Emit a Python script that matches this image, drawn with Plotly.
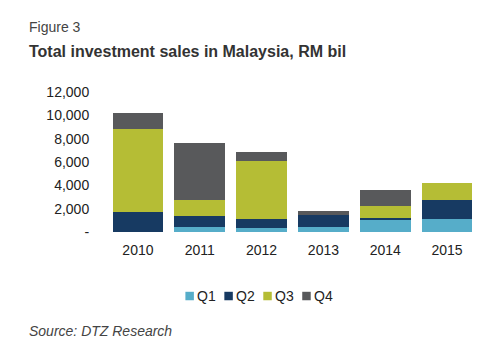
import plotly.graph_objects as go

years = ["2010", "2011", "2012", "2013", "2014", "2015"]
q1 = [0, 470, 360, 470, 1000, 1130]
q2 = [1700, 880, 770, 965, 230, 1585]
q3 = [7100, 1425, 4920, 0, 1030, 1485]
q4 = [1380, 4895, 820, 375, 1370, 0]
series_names = ["Q1", "Q2", "Q3", "Q4"]
series_colors = ["#56adc9", "#173a62", "#b5bd35", "#58595b"]
y_tickvals = [0, 2000, 4000, 6000, 8000, 10000, 12000]
y_ticktext = ["-", "2,000", "4,000", "6,000", "8,000", "10,000", "12,000"]

# page body has an 8px default margin; work in window pixels and shift
OFF = 8
W, H = 500 - OFF, 358 - OFF
pl, pr, pt, pb = 107 - OFF, 478.5 - OFF, 92 - OFF, 232.5 - OFF

def px(x):
    return (x - OFF - pl) / (pr - pl)

def py(y):
    return (pb - (y - OFF)) / (pb - pt)

fig = go.Figure()
for name, vals, col in zip(series_names, [q1, q2, q3, q4], series_colors):
    fig.add_trace(go.Bar(x=years, y=vals, name=name, showlegend=False,
                         marker=dict(color=col, line=dict(width=0))))

# manual legend (compact, like the original)
shapes = []
legend_ann = []
leg_x0 = 185.5
leg_step = 39
for i, (name, col) in enumerate(zip(series_names, series_colors)):
    x0 = leg_x0 + i * leg_step
    shapes.append(dict(type="rect", xref="paper", yref="paper",
                       x0=px(x0), x1=px(x0 + 8.5), y0=py(301), y1=py(292.5),
                       fillcolor=col, line=dict(width=0)))
    legend_ann.append(dict(text=name, x=px(x0 + 10), y=py(297), xref="paper", yref="paper",
                           xanchor="left", yanchor="middle", showarrow=False,
                           font=dict(size=14, color="#222222")))

fig.update_layout(
    width=W, height=H,
    margin=dict(l=pl, r=W - pr, t=pt, b=H - pb),
    barmode="stack", bargap=0.18,
    plot_bgcolor="white", paper_bgcolor="white",
    font=dict(family="Liberation Sans, Arial, sans-serif", color="#222222", size=14),
    showlegend=False,
    xaxis=dict(showgrid=False, showline=False, zeroline=False, ticks="outside",
               ticklen=5, tickcolor="rgba(0,0,0,0)", tickfont=dict(size=14)),
    yaxis=dict(range=[0, 12000], tickvals=y_tickvals, ticktext=y_ticktext,
               showgrid=False, showline=False, zeroline=False, ticks="outside",
               ticklen=14, tickcolor="rgba(0,0,0,0)", tickfont=dict(size=14)),
    shapes=shapes,
    annotations=[
        dict(text="Figure 3", x=px(27), y=py(27), xref="paper", yref="paper", xanchor="left",
             yanchor="middle", showarrow=False, font=dict(size=14, color="#444444")),
        dict(text="<b>Total investment sales in Malaysia, RM bil</b>", x=px(27), y=py(51),
             xref="paper", yref="paper", xanchor="left", yanchor="middle", showarrow=False,
             font=dict(size=16, color="#333333")),
        dict(text="<i>Source: DTZ Research</i>", x=px(27), y=py(332), xref="paper", yref="paper",
             xanchor="left", yanchor="middle", showarrow=False,
             font=dict(size=14, color="#444444")),
    ] + legend_ann,
)

fig.write_html("out.html")
